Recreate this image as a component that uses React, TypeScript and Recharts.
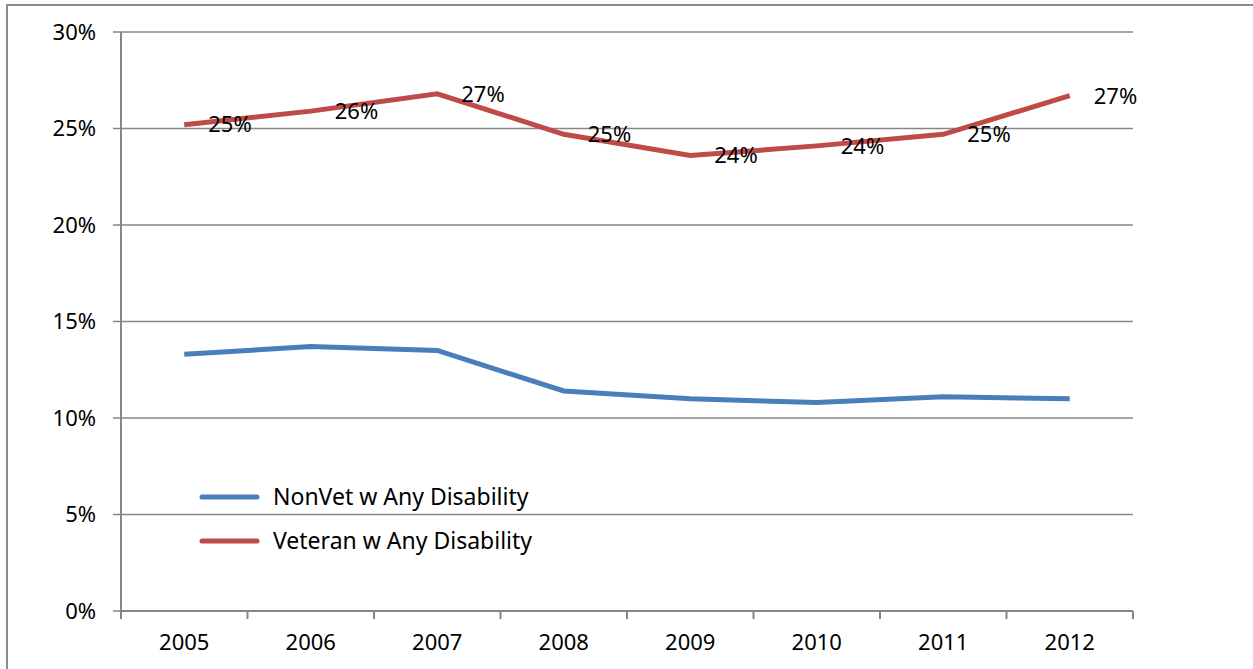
import {
    CartesianGrid,
    LabelList,
    Line,
    LineChart,
    XAxis,
    YAxis,
} from "recharts"

const years = ["2005", "2006", "2007", "2008", "2009", "2010", "2011", "2012"]
const nonVet = [13.3, 13.7, 13.5, 11.4, 11.0, 10.8, 11.1, 11.0]
const veteran = [25.2, 25.9, 26.8, 24.7, 23.6, 24.1, 24.7, 26.7]
const yTicks = [0, 5, 10, 15, 20, 25, 30]
const seriesNames = ["NonVet w Any Disability", "Veteran w Any Disability"]

const data = years.map((year, i) => ({
    year,
    nonVet: nonVet[i],
    veteran: veteran[i],
}))

const W = 1253
const H = 669
const LEFT = 121
const RIGHT = 1133
const TOP = 32
const BOTTOM = 611
const BAND = (RIGHT - LEFT) / years.length
const FONT = "'Noto Sans', 'Open Sans', sans-serif"
const FS = 22
const GRID = "#868686"
const BLUE = "#4A7EBB"
const RED = "#BE4B48"

function YearTick(props: any) {
    const { x, payload, index } = props
    const left = x - BAND / 2
    const right = x + BAND / 2
    return (
        <g>
            <line x1={left} x2={left} y1={BOTTOM} y2={BOTTOM + 8} stroke={GRID} strokeWidth={2} />
            {index === years.length - 1 && (
                <line x1={right} x2={right} y1={BOTTOM} y2={BOTTOM + 8} stroke={GRID} strokeWidth={2} />
            )}
            <text
                x={x}
                y={BOTTOM + 31}
                dy="0.35em"
                textAnchor="middle"
                fill="#000"
                fontSize={FS}
                fontFamily={FONT}
            >
                {payload.value}
            </text>
        </g>
    )
}

function LegendBox() {
    const colors = [BLUE, RED]
    return (
        <svg width={480} height={90} style={{ position: "absolute", left: 198, top: 478, overflow: "visible" }}>
            {seriesNames.map((name, i) => (
                <g key={name}>
                    <line
                        x1={4}
                        x2={59}
                        y1={19 + i * 44}
                        y2={19 + i * 44}
                        stroke={colors[i]}
                        strokeWidth={5}
                        strokeLinecap="round"
                    />
                    <text
                        x={75}
                        y={19 + i * 44}
                        dy="0.35em"
                        fontSize={23}
                        fontFamily={FONT}
                        fill="#000"
                    >
                        {name}
                    </text>
                </g>
            ))}
        </svg>
    )
}

export default function App() {
    return (
        <div style={{ position: "absolute", left: 0, top: 0, width: W, height: H, overflow: "hidden", background: "#fff" }}>
            <div
                style={{
                    position: "absolute",
                    left: 6,
                    top: 4,
                    width: W,
                    height: H,
                    borderLeft: "2px solid #8c8c8c",
                    borderTop: "2px solid #8c8c8c",
                }}
            />
            <LineChart
                width={W}
                height={H}
                data={data}
                margin={{ top: TOP, right: W - RIGHT, bottom: 0, left: 0 }}
                style={{ position: "absolute", left: 0, top: 0 }}
            >
                <CartesianGrid vertical={false} stroke={GRID} strokeWidth={1.5} />
                <XAxis
                    dataKey="year"
                    type="category"
                    padding={{ left: BAND / 2, right: BAND / 2 }}
                    axisLine={{ stroke: GRID, strokeWidth: 2 }}
                    tickLine={false}
                    tick={<YearTick />}
                    interval={0}
                    height={H - BOTTOM}
                />
                <YAxis
                    type="number"
                    domain={[0, 30]}
                    ticks={yTicks}
                    width={LEFT}
                    tickSize={8}
                    tickMargin={17}
                    axisLine={{ stroke: GRID, strokeWidth: 2 }}
                    tickLine={{ stroke: GRID, strokeWidth: 1.5 }}
                    tickFormatter={(v: number) => `${v}%`}
                    tick={{ fill: "#000", fontSize: FS, fontFamily: FONT }}
                />
                <Line
                    dataKey="nonVet"
                    name={seriesNames[0]}
                    stroke={BLUE}
                    strokeWidth={5}
                    dot={false}
                    isAnimationActive={false}
                />
                <Line
                    dataKey="veteran"
                    name={seriesNames[1]}
                    stroke={RED}
                    strokeWidth={5}
                    dot={false}
                    isAnimationActive={false}
                >
                    <LabelList
                        dataKey="veteran"
                        position="right"
                        offset={24}
                        formatter={(v: any) => `${Math.round(v)}%`}
                        fill="#000"
                        fontSize={FS}
                        fontFamily={FONT}
                    />
                </Line>
            </LineChart>
            <LegendBox />
        </div>
    )
}
